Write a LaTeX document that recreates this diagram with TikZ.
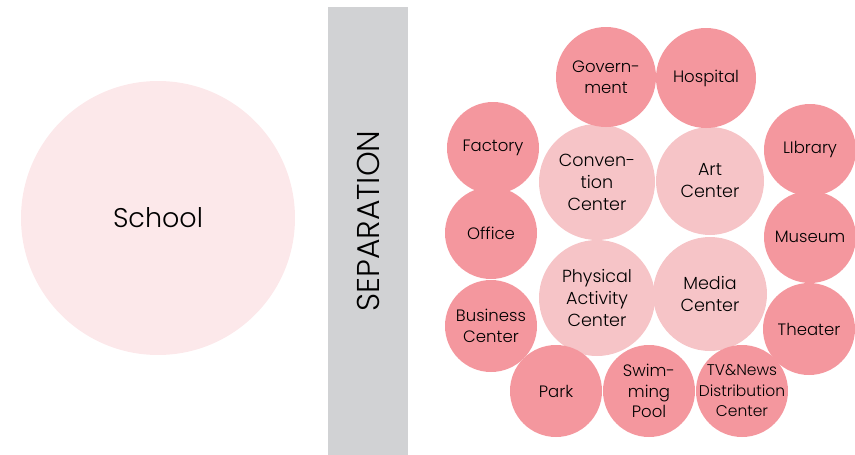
\documentclass[tikz,border=0pt]{standalone}
\usepackage{fontspec}
\setmainfont{Poppins Light}
\definecolor{placepink}{RGB}{244,151,158}
\definecolor{hubpink}{RGB}{246,196,199}
\definecolor{schoolpink}{RGB}{252,232,234}
\definecolor{sepgrey}{RGB}{209,210,212}

\begin{document}
\begin{tikzpicture}[x=1pt,y=-1pt,
    place/.style={circle,fill=placepink,inner sep=0,minimum size=92pt,align=center,font=\fontsize{16.5}{20.5}\selectfont},
    hub/.style={circle,fill=hubpink,inner sep=0,minimum size=114pt,align=center,font=\fontsize{17.5}{22}\selectfont}]
    \useasboundingbox (0,0) rectangle (855,455);

    \node[circle,fill=schoolpink,inner sep=0,minimum size=274pt,font=\fontsize{27}{30}\selectfont] (school) at (158,218) {School};
    \fill[sepgrey] (328,7) rectangle (408,455);
    \node[rotate=90,font=\fontsize{31.5}{34}\selectfont] (sep) at (368,221) {SEPARATION};

    \node[hub,minimum size=116pt] (conv) at (597,182) {Conven-\\tion\\Center};
    \node[hub,minimum size=108pt] (art) at (710,181) {Art\\Center};
    \node[hub,minimum size=116pt] (phys) at (597,298) {Physical\\Activity\\Center};
    \node[hub] (media) at (710,294) {Media\\Center};

    \node[place,minimum size=100pt] (gov) at (606,77) {Govern-\\ment};
    \node[place,minimum size=100pt] (hosp) at (706,78) {Hospital};
    \node[place] (fact) at (493,148) {Factory};
    \node[place] (off) at (491,233) {Office};
    \node[place] (bus) at (491,326) {Business\\Center};
    \node[place] (park) at (556,391) {Park};
    \node[place] (swim) at (649,391) {Swim-\\ming\\Pool};
    \node[place,inner sep=-14pt,font=\fontsize{15.5}{20.5}\selectfont] (tv) at (742,391) {TV\&News\\Distribution\\Center};
    \node[place] (theat) at (809,329) {Theater};
    \node[place] (mus) at (810,237) {Museum};
    \node[place] (lib) at (810,150) {LIbrary};
\end{tikzpicture}
\end{document}
